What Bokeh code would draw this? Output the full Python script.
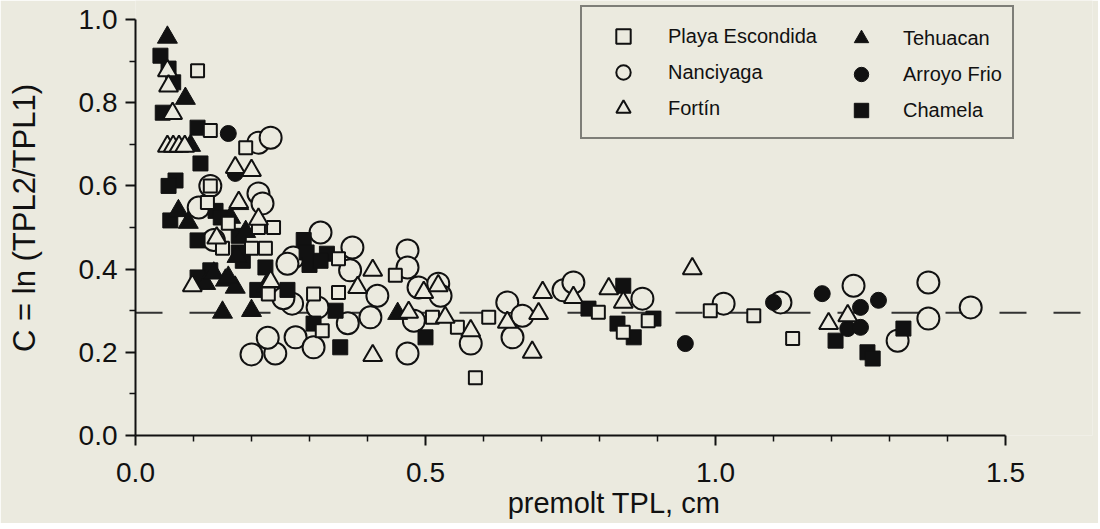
from bokeh.plotting import figure
from bokeh.models import (Range1d, FixedTicker, PrintfTickFormatter, Span,
                          Legend, LegendItem)
from bokeh.embed import file_html
from bokeh.resources import INLINE

BG = "#ebeadf"
INK = "#111111"
FONT = "Liberation Sans"

# ---- data (premolt TPL, cm ; C = ln(TPL2/TPL1)) ----
playa_x = [0.107, 0.129, 0.190, 0.129, 0.124, 0.160, 0.212, 0.238, 0.150, 0.200,
           0.224, 0.229, 0.307, 0.350, 0.350, 0.448, 0.322, 0.512, 0.555, 0.609,
           0.586, 0.798, 0.841, 0.884, 0.991, 1.066, 1.133]
playa_y = [0.877, 0.733, 0.692, 0.600, 0.560, 0.510, 0.500, 0.500, 0.450, 0.450,
           0.450, 0.340, 0.340, 0.344, 0.425, 0.385, 0.252, 0.284, 0.260, 0.284,
           0.139, 0.296, 0.248, 0.276, 0.300, 0.288, 0.233]

nanci_x = [0.212, 0.233, 0.129, 0.212, 0.219, 0.109, 0.135, 0.319, 0.374, 0.469,
           0.272, 0.262, 0.370, 0.417, 0.270, 0.314, 0.366, 0.405, 0.276, 0.307,
           0.241, 0.469, 0.469, 0.488, 0.522, 0.526, 0.480, 0.578, 0.641, 0.650,
           0.667, 0.738, 0.755, 0.874, 1.014, 1.112, 1.238, 1.314, 1.367, 1.367,
           1.440, 0.200, 0.228, 0.255]
nanci_y = [0.704, 0.716, 0.600, 0.582, 0.558, 0.548, 0.470, 0.488, 0.452, 0.445,
           0.428, 0.413, 0.397, 0.336, 0.317, 0.308, 0.270, 0.284, 0.236, 0.212,
           0.197, 0.197, 0.404, 0.356, 0.365, 0.336, 0.276, 0.221, 0.320, 0.236,
           0.288, 0.349, 0.368, 0.329, 0.317, 0.320, 0.360, 0.228, 0.368, 0.281,
           0.308, 0.195, 0.235, 0.330]

fortin_x = [0.055, 0.057, 0.064, 0.055, 0.065, 0.075, 0.085, 0.172, 0.200, 0.212,
            0.098, 0.140, 0.178, 0.233, 0.409, 0.383, 0.409, 0.471, 0.497, 0.522,
            0.534, 0.578, 0.641, 0.695, 0.702, 0.684, 0.755, 0.816, 0.841, 0.960,
            1.195, 1.228]
fortin_y = [0.877, 0.840, 0.774, 0.695, 0.695, 0.695, 0.695, 0.644, 0.637, 0.520,
            0.360, 0.475, 0.560, 0.370, 0.397, 0.356, 0.192, 0.296, 0.344, 0.360,
            0.284, 0.252, 0.272, 0.293, 0.344, 0.200, 0.332, 0.353, 0.320, 0.401,
            0.269, 0.288]

tehu_x = [0.055, 0.086, 0.095, 0.074, 0.091, 0.178, 0.121, 0.155, 0.172, 0.150,
          0.200, 0.225, 0.452, 0.164, 0.135, 0.190, 0.175, 0.160]
tehu_y = [0.957, 0.810, 0.697, 0.540, 0.512, 0.557, 0.365, 0.373, 0.356, 0.296,
          0.300, 0.360, 0.293, 0.524, 0.390, 0.490, 0.430, 0.380]

arroyo_x = [0.160, 0.172, 0.948, 1.100, 1.184, 1.250, 1.281, 1.228, 1.250]
arroyo_y = [0.726, 0.630, 0.221, 0.320, 0.341, 0.308, 0.325, 0.257, 0.260]

chamela_x = [0.043, 0.057, 0.065, 0.047, 0.107, 0.112, 0.069, 0.057, 0.060, 0.107,
             0.129, 0.224, 0.138, 0.147, 0.178, 0.178, 0.185, 0.107, 0.210, 0.290,
             0.295, 0.300, 0.330, 0.319, 0.262, 0.345, 0.307, 0.353, 0.500, 0.781,
             0.841, 0.831, 0.859, 0.893, 1.207, 1.262, 1.271, 1.324]
chamela_y = [0.913, 0.882, 0.849, 0.776, 0.740, 0.654, 0.613, 0.600, 0.517, 0.469,
             0.397, 0.404, 0.540, 0.524, 0.480, 0.440, 0.420, 0.380, 0.350, 0.470,
             0.440, 0.410, 0.437, 0.420, 0.350, 0.300, 0.269, 0.212, 0.236, 0.305,
             0.360, 0.269, 0.236, 0.281, 0.228, 0.200, 0.185, 0.257]

ref_c = 0.295
x_major = [0.0, 0.5, 1.0, 1.5]
x_minor = [0.1, 0.2, 0.3, 0.4, 0.6, 0.7, 0.8, 0.9, 1.1, 1.2, 1.3, 1.4]
y_major = [0.0, 0.2, 0.4, 0.6, 0.8, 1.0]
y_minor = [0.1, 0.3, 0.5, 0.7, 0.9]

p = figure(frame_width=957, frame_height=435,
           x_range=Range1d(0, 1.65), y_range=Range1d(0, 1.0457),
           min_border_left=135, min_border_right=6, min_border_top=0,
           min_border_bottom=88, output_backend="svg", toolbar_location=None,
           background_fill_color=BG, border_fill_color=BG, outline_line_color=None)
p.grid.visible = False

# reference line
p.add_layout(Span(location=ref_c, dimension="width", line_color="#333333",
                  line_width=2, line_dash="27 27", level="underlay"))

r_nan = p.scatter(nanci_x, nanci_y, marker="circle", size=22, fill_color=BG,
                  line_color=INK, line_width=2)
r_cha = p.scatter(chamela_x, chamela_y, marker="square", size=15, fill_color=INK,
                  line_color=INK, line_width=1)
r_teh = p.scatter(tehu_x, tehu_y, marker="triangle", size=20, fill_color=INK,
                  line_color=INK, line_width=1)
r_arr = p.scatter(arroyo_x, arroyo_y, marker="circle", size=16, fill_color=INK,
                  line_color=INK, line_width=1)
r_pla = p.scatter(playa_x, playa_y, marker="square", size=13, fill_color=BG,
                  line_color=INK, line_width=2)
r_for = p.scatter(fortin_x, fortin_y, marker="triangle", size=19, fill_color=BG,
                  line_color=INK, line_width=2)

# axes
for ax, maj, mnr, bnd in ((p.xaxis[0], x_major, x_minor, (0, 1.5)),
                          (p.yaxis[0], y_major, y_minor, (0, 1.0))):
    ax.ticker = FixedTicker(ticks=maj, minor_ticks=mnr)
    ax.formatter = PrintfTickFormatter(format="%.1f")
    ax.bounds = bnd
    ax.axis_line_width = 2
    ax.axis_line_color = INK
    ax.major_tick_line_width = 2
    ax.major_tick_line_color = INK
    ax.minor_tick_line_width = 1.5
    ax.minor_tick_line_color = INK
    ax.major_tick_out = 10
    ax.major_tick_in = 0
    ax.minor_tick_out = 6
    ax.minor_tick_in = 0
    ax.major_label_text_font = FONT
    ax.major_label_text_font_size = "28px"
    ax.major_label_text_color = INK
    ax.axis_label_text_font = FONT
    ax.axis_label_text_font_style = "normal"
    ax.axis_label_text_color = INK
p.xaxis[0].axis_label_text_font_size = "29px"
p.yaxis[0].axis_label_text_font_size = "31px"
p.xaxis[0].major_label_standoff = 17
p.yaxis[0].major_label_standoff = 8
p.xaxis[0].axis_label = "premolt TPL, cm"
p.xaxis[0].axis_label_standoff = 2
p.yaxis[0].axis_label = "C = ln (TPL2/TPL1)"
p.yaxis[0].axis_label_standoff = 34

# legend (two columns inside one box)
common = dict(margin=0, padding=11, spacing=0, glyph_width=60, glyph_height=36,
              label_height=36, label_text_font=FONT, label_text_font_size="20px",
              label_text_color=INK)
leg_a = Legend(items=[LegendItem(label="Playa Escondida", renderers=[r_pla]),
                      LegendItem(label="Nanciyaga", renderers=[r_nan]),
                      LegendItem(label="Fortín", renderers=[r_for])],
               location=(445, 296), label_standoff=15, label_width=333,
               border_line_color=INK, border_line_width=2,
               background_fill_color=BG, background_fill_alpha=1.0, **common)
leg_b = Legend(items=[LegendItem(label="Tehuacan", renderers=[r_teh]),
                      LegendItem(label="Arroyo Frio", renderers=[r_arr]),
                      LegendItem(label="Chamela", renderers=[r_cha])],
               location=(685, 296), label_standoff=12,
               border_line_alpha=0, background_fill_alpha=0, **common)
p.add_layout(leg_a, "center")
p.add_layout(leg_b, "center")

html = file_html(p, INLINE)
html = html.replace("<body>", '<body style="background:%s">' % BG, 1)
open("out.html", "w").write(html)
